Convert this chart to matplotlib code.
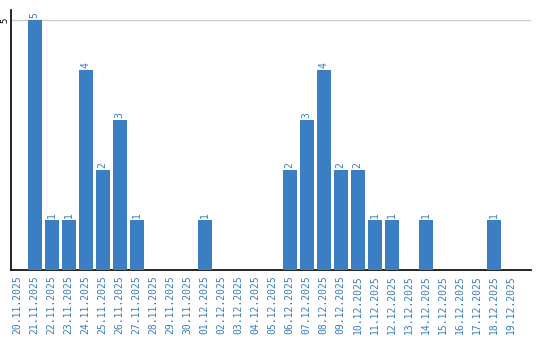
import matplotlib
matplotlib.use("Agg")
import matplotlib.pyplot as plt

dates = ["20.11.2025", "21.11.2025", "22.11.2025", "23.11.2025", "24.11.2025",
         "25.11.2025", "26.11.2025", "27.11.2025", "28.11.2025", "29.11.2025",
         "30.11.2025", "01.12.2025", "02.12.2025", "03.12.2025", "04.12.2025",
         "05.12.2025", "06.12.2025", "07.12.2025", "08.12.2025", "09.12.2025",
         "10.12.2025", "11.12.2025", "12.12.2025", "13.12.2025", "14.12.2025",
         "15.12.2025", "16.12.2025", "17.12.2025", "18.12.2025", "19.12.2025"]
counts = [0, 5, 1, 1, 4, 2, 3, 1, 0, 0,
          0, 1, 0, 0, 0, 0, 2, 3, 4, 2,
          2, 1, 1, 0, 1, 0, 0, 0, 1, 0]
y_ticks = [5]

bar_color = "#3b7ec3"
text_color = "#3a7cc2"

fig = plt.figure(figsize=(5.4, 3.4), dpi=100)
ax = fig.add_axes([11/540, 70/340, 520/540, 260/340])

x = list(range(len(dates)))
bars = ax.bar(x, counts, width=0.82, color=bar_color, zorder=3)

for xi, v in zip(x, counts):
    if v > 0:
        ax.text(xi, v + 0.04, str(v), rotation=90, ha="center", va="bottom",
                color=text_color, fontsize=7, family="DejaVu Sans Mono")

ax.set_xlim(-0.4, len(dates) + 0.2)
ax.set_ylim(0, 5.2)
ax.set_xticks(x)
ax.set_xticklabels(dates, rotation=90, color=text_color, fontsize=7,
                   family="DejaVu Sans Mono")
ax.set_yticks(y_ticks)
ax.set_yticklabels([str(t) for t in y_ticks], rotation=90, va="center",
                   fontsize=6.5, family="DejaVu Sans Mono")
ax.tick_params(axis="x", length=0, pad=4)
ax.tick_params(axis="y", length=0, pad=1)
ax.grid(axis="y", color="#cccccc", linewidth=1, zorder=0)
for s in ["top", "right"]:
    ax.spines[s].set_visible(False)
ax.spines["left"].set_linewidth(1.2)
ax.spines["bottom"].set_linewidth(1.2)

fig.savefig("out.png", dpi=100)
